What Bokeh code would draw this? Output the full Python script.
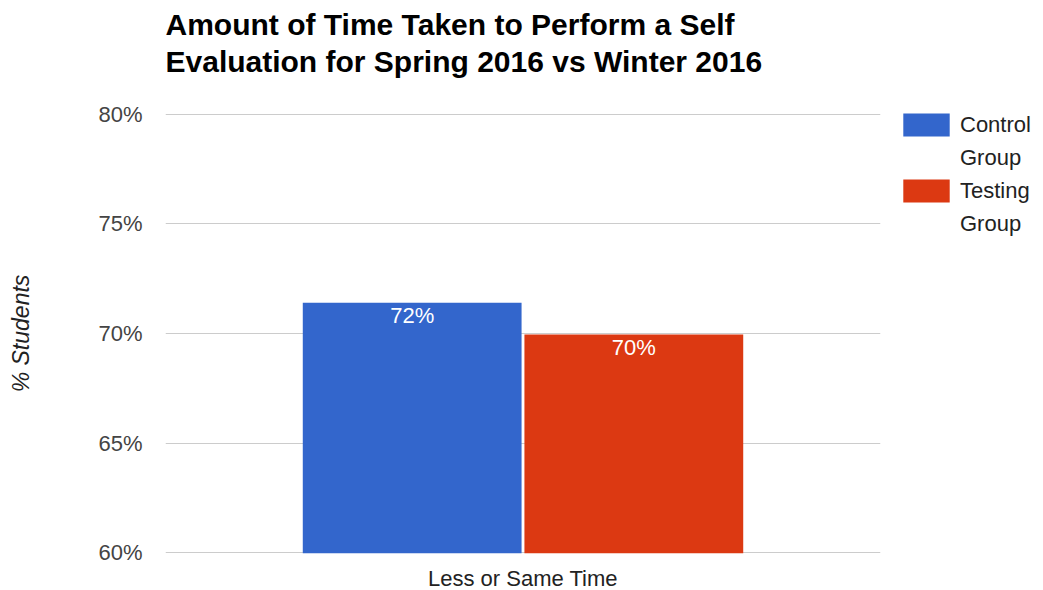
from bokeh.plotting import figure
from bokeh.models import (FactorRange, Range1d, FixedTicker, ColumnDataSource,
                          Legend, LegendItem, Title)
from bokeh.transform import dodge
from bokeh.core.properties import value
from bokeh.embed import file_html
from bokeh.resources import INLINE

# ---- data ----
categories = ["Less or Same Time"]
series_names = ["Control Group", "Testing Group"]
control_values = [71.4]
testing_values = [69.95]
control_labels = ["72%"]
testing_labels = ["70%"]
y_ticks = [60, 65, 70, 75, 80]
y_tick_labels = ["60%", "65%", "70%", "75%", "80%"]
title_lines = ["Amount of Time Taken to Perform a Self",
               "Evaluation for Spring 2016 vs Winter 2016"]
y_axis_title = "% Students"

FONT = "Liberation Sans"
BLUE = "#3366cc"
RED = "#dc3912"

src_c = ColumnDataSource(dict(cat=categories, val=control_values, lab=control_labels))
src_t = ColumnDataSource(dict(cat=categories, val=testing_values, lab=testing_labels))

p = figure(title=None, frame_width=715, frame_height=440,
           x_range=FactorRange(*categories), y_range=Range1d(59.97, 80.03),
           output_backend="svg", toolbar_location=None,
           min_border_left=165, min_border_right=163,
           min_border_top=113, min_border_bottom=37)

# titles: the one closest to the frame first
p.add_layout(Title(text=title_lines[1], text_font=FONT, text_font_style="bold",
                   text_font_size="30px", text_color="#000000", align="left",
                   standoff=72), "above")
p.add_layout(Title(text=title_lines[0], text_font=FONT, text_font_style="bold",
                   text_font_size="30px", text_color="#000000", align="left",
                   standoff=-68), "above")

p.outline_line_color = None
p.xgrid.grid_line_color = None
p.ygrid.grid_line_color = "#cccccc"
p.ygrid.ticker = FixedTicker(ticks=y_ticks)

p.yaxis.ticker = FixedTicker(ticks=y_ticks)
p.yaxis.major_label_overrides = {t: l for t, l in zip(y_ticks, y_tick_labels)}
p.yaxis.axis_line_color = None
p.yaxis.major_tick_line_color = None
p.yaxis.minor_tick_line_color = None
p.yaxis.major_tick_out = 0
p.yaxis.major_label_standoff = 23
p.yaxis.major_label_text_font = FONT
p.yaxis.major_label_text_font_size = "22px"
p.yaxis.major_label_text_color = "#444444"
p.yaxis.axis_label = y_axis_title
p.yaxis.axis_label_text_font = FONT
p.yaxis.axis_label_text_font_style = "italic"
p.yaxis.axis_label_text_font_size = "23px"
p.yaxis.axis_label_text_color = "#222222"
p.yaxis.axis_label_standoff = 61

p.xaxis.axis_line_color = None
p.xaxis.major_tick_line_color = None
p.xaxis.minor_tick_line_color = None
p.xaxis.major_tick_out = 0
p.xaxis.major_label_standoff = 12
p.xaxis.major_label_text_font = FONT
p.xaxis.major_label_text_font_size = "22px"
p.xaxis.major_label_text_color = "#222222"

r1 = p.vbar(x=dodge("cat", -0.155, range=p.x_range), top="val", bottom=59.97, width=0.306,
            source=src_c, fill_color=BLUE, line_color=None)
r2 = p.vbar(x=dodge("cat", 0.155, range=p.x_range), top="val", bottom=59.97, width=0.306,
            source=src_t, fill_color=RED, line_color=None)
blank = p.vbar(x=[], top=[], width=0.1, fill_alpha=0, line_alpha=0)

for src, off in ((src_c, -0.155), (src_t, 0.155)):
    p.text(x=dodge("cat", off, range=p.x_range), y="val", text="lab", source=src,
           text_align="center", text_baseline="top", y_offset=0,
           text_font=value(FONT), text_font_size="22px", text_color="#ffffff")

items = []
for name, rend in ((series_names[0], r1), (series_names[1], r2)):
    first, second = name.split(" ", 1)
    items.append(LegendItem(label=first, renderers=[rend]))
    items.append(LegendItem(label=second, renderers=[blank]))

ITEM_H = 29
SPACING = 4
LEG_H = 4 * ITEM_H + 3 * SPACING
leg = Legend(items=items, location=(17, 553 - 110 - LEG_H))
leg.border_line_color = None
leg.background_fill_alpha = 0
leg.margin = 0
leg.padding = 0
leg.glyph_width = 58
leg.glyph_height = ITEM_H
leg.label_height = ITEM_H
leg.label_standoff = 5
leg.spacing = SPACING
leg.label_text_font = FONT
leg.label_text_font_size = "22px"
leg.label_text_color = "#222222"
p.add_layout(leg, "right")

open("out.html", "w").write(file_html(p, INLINE))
